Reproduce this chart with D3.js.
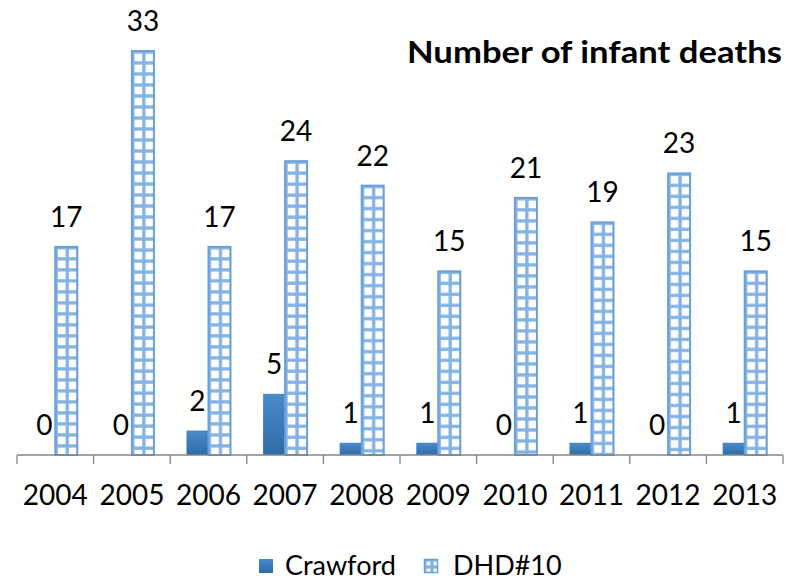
<!DOCTYPE html>
<html>
<head>
<meta charset="utf-8">
<script src="https://cdn.jsdelivr.net/npm/d3@7/dist/d3.min.js"></script>
<style>
  html, body { margin: 0; padding: 0; background: #ffffff; }
  svg { display: block; font-family: Lato, "Open Sans", sans-serif; }
</style>
</head>
<body>
<svg id="chart" width="790" height="580"></svg>
<script>
const years = ["2004","2005","2006","2007","2008","2009","2010","2011","2012","2013"];
const seriesNames = ["Crawford", "DHD#10"];
const crawford = [0, 0, 2, 5, 1, 1, 0, 1, 0, 1];
const dhd10 = [17, 33, 17, 24, 22, 15, 21, 19, 23, 15];
const titleText = "Number of infant deaths";

const svg = d3.select("#chart");
const defs = svg.append("defs");

const left = 17, right = 783, baseY = 455, topY = 51;
const x0 = d3.scaleBand().domain(years).range([left, right]).padding(0);
const x1 = d3.scaleBand().domain(seriesNames).range([0, x0.bandwidth()]).paddingInner(0).paddingOuter(0.74);
const y = d3.scaleLinear().domain([0, 33]).range([baseY, topY]);

// gradient for Crawford
const grad = defs.append("linearGradient").attr("id", "crawGrad")
  .attr("x1", 0).attr("y1", 0).attr("x2", 0).attr("y2", 1);
grad.append("stop").attr("offset", "0%").attr("stop-color", "#4a8bcb");
grad.append("stop").attr("offset", "100%").attr("stop-color", "#2f6ba7");

const lineColor = "#84b3e3";
const borderColor = "#6a9fd8";
function makeGrid(id, px, py, cell) {
  const p = defs.append("pattern").attr("id", id)
    .attr("patternUnits", "userSpaceOnUse")
    .attr("x", px).attr("y", py)
    .attr("width", cell).attr("height", cell);
  p.append("rect").attr("width", cell).attr("height", cell).attr("fill", "#ffffff");
  p.append("rect").attr("x", 0).attr("y", 0).attr("width", cell).attr("height", 2.6).attr("fill", lineColor);
  p.append("rect").attr("x", 0).attr("y", 0).attr("width", 2.6).attr("height", cell).attr("fill", lineColor);
  p.append("rect").attr("x", cell - 0.7).attr("y", 0).attr("width", 0.7).attr("height", cell).attr("fill", lineColor);
  p.append("rect").attr("x", 0).attr("y", cell - 0.7).attr("width", cell).attr("height", 0.7).attr("fill", lineColor);
}

const rows = years.map((yr, i) => ({ year: yr, Crawford: crawford[i], "DHD#10": dhd10[i] }));

// Crawford bars
svg.append("g").selectAll("rect").data(rows).join("rect")
  .attr("x", d => x0(d.year) + x1("Crawford"))
  .attr("y", d => y(d.Crawford))
  .attr("width", x1.bandwidth())
  .attr("height", d => baseY - y(d.Crawford))
  .attr("fill", "url(#crawGrad)");

// DHD bars with grid pattern
rows.forEach((d, i) => {
  const bx = x0(d.year) + x1("DHD#10");
  makeGrid("grid" + i, bx, y(d["DHD#10"]), x1.bandwidth() / 2);
});
svg.append("g").selectAll("rect").data(rows).join("rect")
  .attr("x", d => x0(d.year) + x1("DHD#10"))
  .attr("y", d => y(d["DHD#10"]))
  .attr("width", x1.bandwidth())
  .attr("height", d => baseY - y(d["DHD#10"]))
  .attr("fill", (d, i) => "url(#grid" + i + ")")
  .attr("stroke", borderColor)
  .attr("stroke-width", 2);

// data labels
const labelFont = 28;
svg.append("g").selectAll("text").data(rows).join("text")
  .attr("x", d => x0(d.year) + x1("Crawford") + x1.bandwidth() / 2)
  .attr("y", d => y(d.Crawford) - 20)
  .attr("text-anchor", "middle")
  .attr("font-size", labelFont)
  .attr("fill", "#000")
  .text(d => d.Crawford);
svg.append("g").selectAll("text").data(rows).join("text")
  .attr("x", d => x0(d.year) + x1("DHD#10") + x1.bandwidth() / 2)
  .attr("y", d => y(d["DHD#10"]) - 20)
  .attr("text-anchor", "middle")
  .attr("font-size", labelFont)
  .attr("fill", "#000")
  .text(d => d["DHD#10"]);

// axis
const axis = svg.append("g").attr("transform", `translate(0,${baseY})`)
  .call(d3.axisBottom(x0).tickSize(0).tickPadding(0));
axis.select(".domain").attr("stroke", "#868686").attr("stroke-width", 1.3)
  .attr("d", `M${left},0H${right}`);
axis.selectAll(".tick text").attr("font-size", 28).attr("fill", "#000")
  .attr("font-family", "Lato, 'Open Sans', sans-serif")
  .attr("y", 50).attr("dy", 0);
const bounds = years.map(yr => x0(yr)).concat([right]);
axis.append("g").selectAll("line").data(bounds).join("line")
  .attr("x1", d => d).attr("x2", d => d)
  .attr("y1", 0).attr("y2", 9)
  .attr("stroke", "#868686").attr("stroke-width", 1.3);

// title
svg.append("text")
  .attr("x", 407).attr("y", 63)
  .attr("font-size", 30)
  .attr("font-weight", "bold")
  .attr("fill", "#000")
  .attr("textLength", 375)
  .attr("lengthAdjust", "spacingAndGlyphs")
  .text(titleText);

// legend
const lg = svg.append("g");
lg.append("rect").attr("x", 259).attr("y", 559).attr("width", 14).attr("height", 14)
  .attr("fill", "url(#crawGrad)");
lg.append("text").attr("x", 285).attr("y", 575).attr("font-size", 27).attr("fill", "#000")
  .text(seriesNames[0]);
makeGrid("gridLegend", 424, 559, 7);
lg.append("rect").attr("x", 424.5).attr("y", 559.5).attr("width", 13).attr("height", 13)
  .attr("fill", "url(#gridLegend)").attr("stroke", borderColor).attr("stroke-width", 1.5);
lg.append("text").attr("x", 453).attr("y", 575).attr("font-size", 27).attr("fill", "#000")
  .text(seriesNames[1]);
</script>
</body>
</html>
